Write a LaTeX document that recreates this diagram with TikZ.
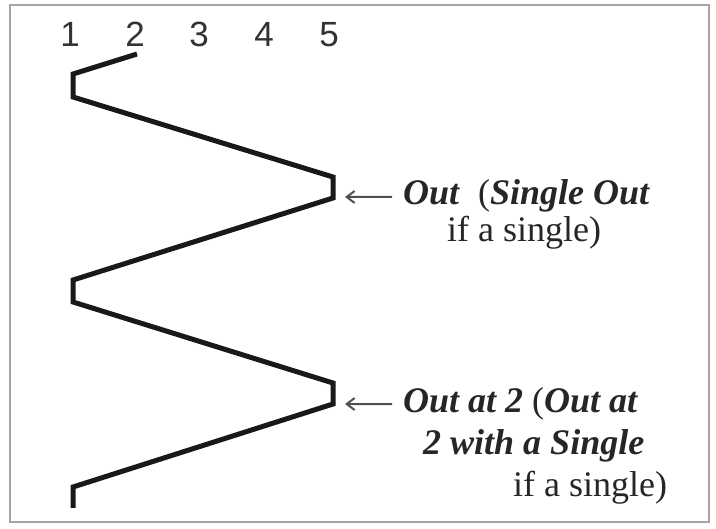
\documentclass[tikz,border=0pt]{standalone}
\usepackage{fontspec}
\setmainfont{Liberation Serif}
\newfontfamily\numfont{Liberation Sans}
\usetikzlibrary{arrows.meta,positioning}
\definecolor{framegray}{RGB}{165,165,165}
\definecolor{arrowgray}{RGB}{80,80,80}
\newcommand\bfit[1]{\textbf{\textit{#1}}}

\begin{document}
\begin{tikzpicture}[x=1pt,y=-1pt,every node/.style={inner sep=0pt},
  num/.style={font=\numfont\fontsize{35}{35}\selectfont,text=black!80,anchor=base},
  callout/.style={font=\fontsize{36}{40}\selectfont,text=black!85,anchor=base west},
  pointer/.style={draw=arrowgray,line width=2pt,-{Straight Barb[length=8pt,width=12pt]},shorten <=11pt},
  zigzag/.style={line width=5pt,line join=miter,black!90}]
\useasboundingbox (0,0) rectangle (716,529);
\draw[framegray,line width=2.5pt] (10,5) rectangle (709,522);
% column numbers
\foreach \i/\x in {1/70,2/135,3/199,4/264,5/329}
  \node[num] (n\i) at (\x,47) {\i};
% corners of the path
\coordinate (s0) at (137,54);
\coordinate (a1) at (73,74);  \coordinate (a2) at (73,97);
\coordinate (b1) at (333,177); \coordinate (b2) at (333,198);
\coordinate (c1) at (73,280); \coordinate (c2) at (73,302);
\coordinate (d1) at (333,383); \coordinate (d2) at (333,404);
\coordinate (e1) at (73,487); \coordinate (e2) at (73,508);
\draw[zigzag] (s0) -- (a1) -- (a2) -- (b1) -- (b2) -- (c1) -- (c2)
  -- (d1) -- (d2) -- (e1) -- (e2);
% labels
\node[callout] (out1) at (403,205) {\bfit{Out}\ \ (\bfit{Single Out}};
\node[callout] (out1b) at (447,242) {if a single)};
\node[callout] (out2) at (403,413) {\bfit{Out at 2} (\bfit{Out at}};
\node[callout] (out2b) at (423,455) {\bfit{2 with a Single}};
\node[callout] (out2c) at (513,497) {if a single)};
\coordinate (p1) at (345,197);
\coordinate (p2) at (345,404);
\draw[pointer] (out1) -- (p1);
\draw[pointer] (out2) -- (p2);
\end{tikzpicture}
\end{document}
